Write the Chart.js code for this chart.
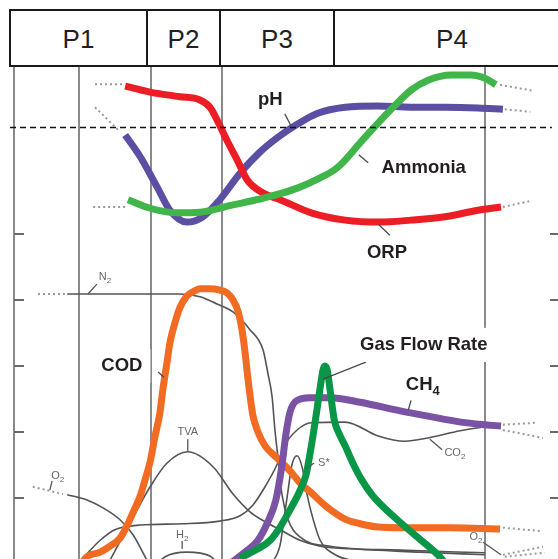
<!DOCTYPE html>
<html>
<head>
<meta charset="utf-8">
<script src="https://cdn.jsdelivr.net/npm/chart.js@4.4.0/dist/chart.umd.min.js"></script>
<style>
  html, body { margin: 0; padding: 0; background: #fff; overflow: hidden; width: 558px; height: 559px; }
  #wrap { position: absolute; left: 0; top: 0; width: 558px; height: 564px; }
  #stages {
    position: absolute; left: 9px; top: 9px; height: 58px; width: 560px;
    display: flex; box-sizing: border-box;
    border: 2px solid #1a1a1a; border-right: none;
    font-family: "Liberation Sans", Arial, sans-serif; font-size: 26px; color: #231f20;
    background: #fff;
  }
  #stages div {
    box-sizing: border-box; border-right: 2px solid #1a1a1a; padding-top: 3px;
    display: flex; align-items: center; justify-content: center; flex: none;
  }
  #stages div:last-child { flex: 1; border-right: none; }
</style>
</head>
<body>
<div id="wrap"><canvas id="c" width="558" height="564"></canvas></div>
<div id="stages"></div>
<script>
// ---- process stages shown in the header row ----
const stageNames = ['P1', 'P2', 'P3', 'P4'];
const stageCellWidths = [137, 73, 114, null];

// ---- time axis (days) and level axis (relative units) ----
const phaseBounds = [13.8, 29.1, 44.2, 100];
const levelTicks = [10, 20, 30, 40, 50];
const thresholdLevel = 66.2;

// ---- upper panel: liquid-phase indicators  [day, level] ----
const orp = [[23.6,72.4],[28.9,71.5],[35.2,70.8],[39.5,70.3],[41.6,69.2],[43.1,67.3],[45.2,64.2],[47.4,61.2],[49.5,58.2],[52.9,56.2],[56.5,55.2],[63.1,53.2],[70.3,52.1],[77.3,51.8],[84.3,52.1],[91.5,52.6],[98.5,53.6],[103.4,54.1]];
const ph = [[23.6,65.0],[26.8,61.7],[30.4,57.1],[33.1,53.6],[36.7,51.8],[40.1,52.6],[43.7,55.2],[48.0,59.2],[52.2,62.4],[56.1,64.7],[60.3,66.7],[64.5,68.3],[70.3,69.2],[77.3,69.4],[84.3,69.2],[91.5,69.2],[98.5,69.1],[103.8,68.9]];
const ammonia = [[24.2,55.2],[28.9,53.9],[34.6,53.2],[39.5,53.3],[46.5,54.4],[52.2,55.3],[56.5,56.1],[60.7,57.1],[65.0,58.5],[68.2,59.8],[70.3,61.2],[73.7,64.0],[77.3,66.8],[80.9,69.5],[84.3,71.8],[87.9,73.3],[92.8,74.1],[97.0,74.1],[100,73.6],[102.3,72.6]];

// ---- lower panel: organics and gas composition ----
const cod = [[14.0,-0.2],[15.5,1.1],[18.3,1.8],[20.4,2.7],[22.5,3.9],[24.0,5.8],[25.7,8.5],[26.8,10.3],[27.8,12.7],[28.9,15.5],[29.9,19.2],[31.0,23.0],[31.6,26.4],[32.5,30.6],[33.1,33.5],[33.8,35.6],[35.2,38.8],[36.7,40.6],[38.4,41.4],[39.5,41.7],[41.6,41.7],[43.7,41.5],[45.2,41.1],[46.5,40.0],[47.6,38.2],[48.4,35.5],[49.0,32.4],[49.7,27.9],[50.7,22.6],[51.8,20.0],[53.3,17.9],[55.8,16.1],[58.6,14.1],[60.7,12.3],[63.1,10.8],[66.5,8.6],[70.3,6.8],[73.5,6.1],[77.3,5.6],[82.0,5.5],[92.6,5.5],[103.2,5.3]];
const ch4 = [[45.4,-0.2],[49.0,1.8],[51.8,3.6],[53.9,6.4],[55.6,9.7],[56.9,15.0],[57.7,19.5],[58.6,23.0],[59.9,24.7],[62.8,25.2],[67.1,25.2],[73.5,24.5],[82.0,23.2],[87.9,22.4],[94.9,21.5],[100,21.1],[103.4,20.9]];
const gasFlow = [[48.0,0.9],[51.8,2.3],[54.4,3.6],[56.5,5.6],[58.6,8.2],[60.7,11.1],[62.0,13.5],[62.8,16.5],[63.5,19.5],[64.3,23.3],[65.0,26.7],[65.6,29.4],[66.0,30.0],[66.5,29.4],[67.1,26.4],[68.0,21.8],[69.2,19.5],[70.3,17.9],[71.8,15.5],[73.7,12.9],[76.2,10.3],[80.9,7.0],[85.6,4.1],[90.4,1.1],[91.9,-0.2]];
const n2 = [[11.3,40.9],[22.5,40.9],[35.2,40.9],[39.5,40.5],[43.1,39.4],[46.5,38.2],[50.1,35.5],[52.9,32.4],[53.9,28.9],[54.8,25.3],[55.4,20.3],[56.1,15.8],[56.9,10.5],[58.2,6.7],[60.7,4.1],[67.1,2.7],[82.0,2.1],[100,1.7]];
const tva = [[19.3,-0.9],[21.9,2.6],[25.3,7.1],[28.9,11.7],[32.5,15.3],[36.9,17.0],[42.3,14.7],[46.5,10.6],[50.1,7.9],[53.3,6.4],[56.5,5.2],[60.7,3.6],[65.0,2.7],[71.3,2.3],[86.2,1.8],[100,1.4]];
const o2 = [[11.3,10.5],[15.5,9.7],[18.9,8.5],[22.5,6.7],[25.3,4.4],[27.4,1.7],[28.4,0.3]];
const co2 = [[14.6,0.9],[18.3,3.6],[21.4,5.2],[26.8,5.9],[35.9,6.1],[43.7,6.5],[48.0,7.3],[50.7,8.9],[53.3,11.7],[55.8,15.0],[57.5,18.0],[60.1,20.3],[63.1,21.4],[70.3,21.5],[77.3,19.4],[83.0,18.6],[87.9,19.1],[94.7,20.2],[100,20.8]];
const h2 = [[28.9,-1.2],[32.1,1.1],[36.7,1.8],[41.6,1.2],[44.8,-1.2]];
const sulfide = [[54.4,-0.2],[56.5,2.9],[57.3,6.7],[58.2,11.2],[59.0,15.0],[60.1,16.4],[61.2,14.6],[62.2,10.6],[63.5,6.8],[65.0,3.6],[68.2,1.4],[73.5,0.3]];

// ---- dotted extrapolations before start-up and after the run ----
const extensions = [
  [[17.2,72.7],[23.1,72.7]],
  [[103.8,54.1],[109.6,55.0]],
  [[17.2,69.2],[22.5,65.5]],
  [[104.2,68.9],[109.6,68.5]],
  [[16.8,54.1],[24.0,54.1]],
  [[103.2,72.6],[110.2,71.7]],
  [[103.8,5.5],[111.7,5.0]],
  [[103.8,21.1],[111.0,21.4]],
  [[103.8,20.3],[112.3,19.1]],
  [[5.1,40.9],[10.8,40.9]],
  [[4.0,11.7],[10.4,10.6]],
  [[103.8,1.4],[112.3,2.6]],
  [[104.2,1.1],[112.7,1.7]]
];

// ---- callout texts ----
const callouts = [
  { text: 'pH', at: [54.4, 70.3], leader: [[57.5, 68.2], [58.8, 66.4]] },
  { text: 'Ammonia', at: [87.0, 60.0], leader: [[73.2, 62.0], [75.2, 60.8]] },
  { text: 'ORP', at: [79.2, 47.1], leader: [[77.3, 51.5], [79.8, 49.8]] },
  { text: 'COD', at: [22.9, 30.0], box: true, leader: [[30.6, 29.1], [31.8, 28.3]] },
  { text: 'Gas Flow Rate', at: [87.0, 33.2], box: true, leader: [[65.6, 28.0], [74.7, 30.6]] },
  { text: 'CH', sub: '4', at: [86.8, 27.1], leader: [[84.3, 24.8], [83.7, 23.3]] },
  { text: 'N', sub: '2', small: true, at: [19.3, 43.5], leader: [[17.6, 42.4], [15.7, 40.9]] },
  { text: 'TVA', small: true, at: [36.9, 20.0], leader: [[36.9, 18.9], [36.9, 17.0]] },
  { text: 'O', sub: '2', small: true, at: [9.3, 13.3], leader: [[8.1, 12.6], [7.6, 11.2]] },
  { text: 'H', sub: '2', small: true, at: [35.7, 4.4], leader: [[35.7, 3.5], [35.7, 2.3]] },
  { text: 'S*', small: true, at: [65.8, 15.3], leader: [[62.0, 14.4], [63.7, 15.3]] },
  { text: 'CO', sub: '2', small: true, at: [93.6, 16.8], leader: [[88.3, 18.9], [90.9, 17.3]] },
  { text: 'O', sub: '2', small: true, at: [98.1, 4.1], leader: [[99.6, 3.3], [103.4, 1.4]] }
];

// header row
const stagesEl = document.getElementById('stages');
stageNames.forEach((name, i) => {
  const d = document.createElement('div');
  d.textContent = name;
  if (stageCellWidths[i]) d.style.width = stageCellWidths[i] + 'px';
  stagesEl.appendChild(d);
});

const FONT = '"Liberation Sans", Arial, sans-serif';
const toXY = pts => pts.map(([x, y]) => ({ x, y }));

function curve(label, pts, color, width, order) {
  return {
    label, data: toXY(pts), borderColor: color, borderWidth: width, order,
    pointRadius: 0, fill: false, cubicInterpolationMode: 'monotone',
    borderCapStyle: 'butt', borderJoinStyle: 'round'
  };
}

const GRAY = '#545454';
const datasets = [
  curve('Ammonia', ammonia, '#3fb54a', 7, 1),
  curve('ORP', orp, '#ec1d25', 7, 2),
  curve('pH', ph, '#5b4fa3', 7, 3),
  curve('Gas Flow Rate', gasFlow, '#0a9647', 7, 1),
  curve('CH4', ch4, '#7a53a5', 7, 2),
  curve('COD', cod, '#f26b22', 7, 3),
  curve('N2', n2, GRAY, 1.6, 6),
  curve('TVA', tva, GRAY, 1.6, 6),
  curve('O2', o2, GRAY, 1.6, 6),
  curve('CO2', co2, GRAY, 1.6, 6),
  curve('H2', h2, GRAY, 1.6, 6),
  curve('S*', sulfide, GRAY, 1.6, 6)
];
extensions.forEach((pts, i) => {
  datasets.push({
    label: 'ext' + i, data: toXY(pts), borderColor: '#9a9a9a', borderWidth: 2,
    borderDash: [2, 3], pointRadius: 0, tension: 0, fill: false, order: 5
  });
});

const decor = {
  id: 'decor',
  beforeDatasetsDraw(chart) {
    const { ctx, chartArea: a, scales: { x, y } } = chart;
    ctx.save();
    ctx.strokeStyle = '#8a8a8a';
    ctx.lineWidth = 2;
    [x.min, ...phaseBounds].forEach(v => {
      const px = Math.round(x.getPixelForValue(v));
      ctx.beginPath(); ctx.moveTo(px, a.top); ctx.lineTo(px, a.bottom); ctx.stroke();
    });
    ctx.strokeStyle = '#6a6a6a';
    levelTicks.forEach(v => {
      const py = Math.round(y.getPixelForValue(v));
      ctx.beginPath(); ctx.moveTo(a.left, py); ctx.lineTo(a.left + 10, py); ctx.stroke();
      ctx.beginPath(); ctx.moveTo(a.right - 8, py); ctx.lineTo(a.right, py); ctx.stroke();
    });
    ctx.restore();
  },
  afterDatasetsDraw(chart) {
    const { ctx, scales: { x, y } } = chart;
    ctx.save();
    // reference level
    const ty = Math.round(y.getPixelForValue(thresholdLevel)) + 0.5;
    ctx.strokeStyle = '#111';
    ctx.lineWidth = 1.5;
    ctx.setLineDash([6, 4]);
    ctx.beginPath();
    ctx.moveTo(x.getPixelForValue(-0.85), ty);
    ctx.lineTo(x.getPixelForValue(114.2), ty);
    ctx.stroke();
    ctx.setLineDash([]);

    callouts.forEach(c => {
      const size = c.small ? 11 : 18.5;
      const subSize = c.small ? 8 : 13;
      const weight = c.small ? 'normal' : 'bold';
      const color = c.small ? '#666' : '#231f20';
      // leader
      if (c.leader) {
        ctx.strokeStyle = c.small ? '#555' : '#4a4a4a';
        ctx.lineWidth = 1.3;
        ctx.beginPath();
        ctx.moveTo(x.getPixelForValue(c.leader[0][0]), y.getPixelForValue(c.leader[0][1]));
        ctx.lineTo(x.getPixelForValue(c.leader[1][0]), y.getPixelForValue(c.leader[1][1]));
        ctx.stroke();
      }
      ctx.font = `${weight} ${size}px ${FONT}`;
      const w1 = ctx.measureText(c.text).width;
      let w2 = 0;
      if (c.sub) { ctx.font = `${weight} ${subSize}px ${FONT}`; w2 = ctx.measureText(c.sub).width; }
      const total = w1 + w2;
      const cx = x.getPixelForValue(c.at[0]);
      const cy = y.getPixelForValue(c.at[1]);
      if (c.box) {
        ctx.fillStyle = '#fff';
        ctx.fillRect(cx - total / 2 - 8, cy - 17, total + 16, 34);
      }
      ctx.fillStyle = color;
      ctx.textBaseline = 'middle';
      ctx.textAlign = 'left';
      ctx.font = `${weight} ${size}px ${FONT}`;
      ctx.fillText(c.text, cx - total / 2, cy);
      if (c.sub) {
        ctx.font = `${weight} ${subSize}px ${FONT}`;
        ctx.fillText(c.sub, cx - total / 2 + w1, cy + size * 0.32);
      }
    });
    ctx.restore();
  }
};

new Chart(document.getElementById('c'), {
  type: 'line',
  data: { datasets },
  options: {
    responsive: false,
    devicePixelRatio: 1,
    animation: false,
    events: [],
    layout: { padding: { left: 14, top: 67, right: 0, bottom: 0 } },
    plugins: { legend: { display: false }, tooltip: { enabled: false } },
    scales: {
      x: { type: 'linear', display: false, min: 0, max: 115.5 },
      y: { type: 'linear', display: false, min: 0, max: 75.3 }
    }
  },
  plugins: [decor]
});
</script>
</body>
</html>
